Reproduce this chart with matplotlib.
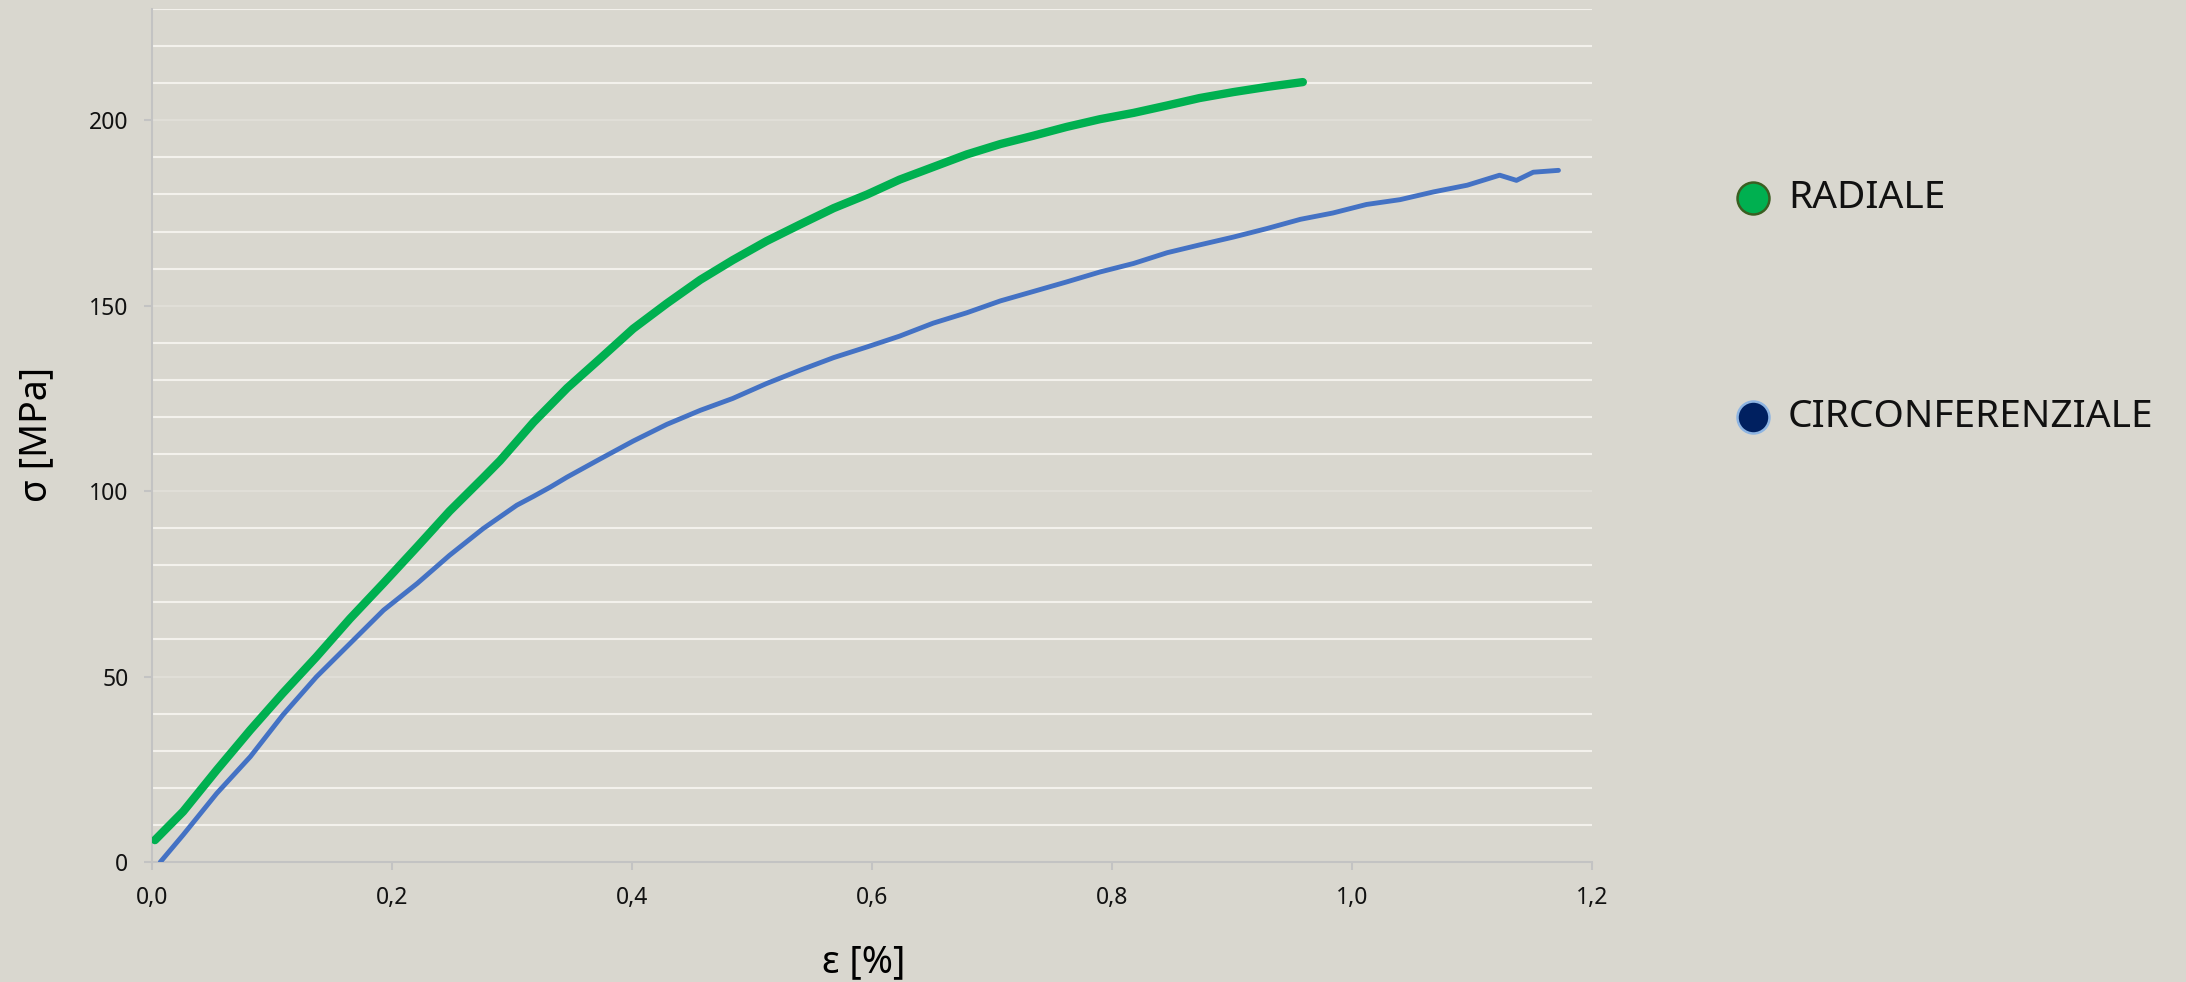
import matplotlib.pyplot as plt
from matplotlib.lines import Line2D
from matplotlib.ticker import MultipleLocator, FuncFormatter

# strain [%] / stress [MPa]
radiale_eps = [0.0025, 0.026, 0.054, 0.082, 0.109, 0.137, 0.165, 0.193, 0.221, 0.248,
               0.276, 0.29, 0.318, 0.346, 0.373, 0.401, 0.429, 0.457, 0.484, 0.512,
               0.54, 0.568, 0.596, 0.623, 0.651, 0.679, 0.707, 0.734, 0.762, 0.79,
               0.818, 0.846, 0.873, 0.901, 0.929, 0.959]
radiale_sig = [5.9, 13.6, 24.8, 35.6, 45.5, 55.3, 65.6, 75.2, 85.0, 94.6,
               103.6, 108.2, 118.6, 127.8, 135.6, 143.8, 150.6, 157.0, 162.3, 167.4,
               171.9, 176.3, 180.0, 184.0, 187.4, 190.8, 193.6, 195.8, 198.2, 200.3,
               202.0, 204.0, 206.0, 207.6, 209.0, 210.3]

circ_eps = [0.007, 0.026, 0.054, 0.082, 0.109, 0.137, 0.165, 0.193, 0.221, 0.248,
            0.276, 0.304, 0.318, 0.332, 0.346, 0.373, 0.401, 0.429, 0.457, 0.484, 0.512,
            0.54, 0.568, 0.596, 0.623, 0.651, 0.679, 0.707, 0.734, 0.762, 0.79,
            0.818, 0.846, 0.873, 0.901, 0.929, 0.957, 0.984, 1.012, 1.04, 1.068,
            1.096, 1.123, 1.137, 1.151, 1.172]
circ_sig = [0.0, 7.3, 18.5, 28.4, 39.6, 49.9, 58.9, 67.9, 75.1, 82.7,
            89.9, 96.2, 98.6, 101.1, 103.8, 108.6, 113.5, 118.0, 121.8, 125.0, 129.0,
            132.6, 136.0, 138.9, 141.8, 145.3, 148.1, 151.3, 153.8, 156.4, 159.1,
            161.4, 164.3, 166.4, 168.5, 170.8, 173.3, 175.0, 177.3, 178.6, 180.7,
            182.5, 185.2, 183.8, 186.0, 186.5]

labels = ['RADIALE', 'CIRCONFERENZIALE']

bg = '#d9d7cf'
plt.rcParams['font.family'] = ['Noto Sans', 'DejaVu Sans']

fig = plt.figure(figsize=(21.86, 9.82), dpi=100, facecolor=bg)
ax = fig.add_axes([0.0695, 0.1222, 0.6588, 0.8686], facecolor=bg)

ax.plot(circ_eps, circ_sig, color='#4472c4', lw=3.5, solid_capstyle='round',
        solid_joinstyle='round', zorder=3)
ax.plot(radiale_eps, radiale_sig, color='#00b050', lw=6, solid_capstyle='round',
        solid_joinstyle='round', zorder=4)

ax.set_xlim(0, 1.2)
ax.set_ylim(0, 230)
ax.xaxis.set_major_locator(MultipleLocator(0.2))
ax.yaxis.set_major_locator(MultipleLocator(50))
ax.yaxis.set_minor_locator(MultipleLocator(10))
ax.xaxis.set_major_formatter(FuncFormatter(lambda v, p: f'{v:.1f}'.replace('.', ',')))

ax.grid(which='minor', axis='y', color='#f3f1ec', lw=1.5, zorder=1)
ax.grid(which='major', axis='y', color='#e0ded7', lw=1.5, zorder=1)
ax.set_axisbelow(True)

for s in ['top', 'right']:
    ax.spines[s].set_visible(False)
for s in ['left', 'bottom']:
    ax.spines[s].set_color('#c3c3c3')
    ax.spines[s].set_linewidth(1.5)

ax.tick_params(which='major', length=6, width=1.5, color='#c3c3c3',
               labelsize=16.5, labelcolor='#111111', pad=11)
ax.tick_params(which='minor', length=0)

fig.text(0.0165, 0.558, 'σ [MPa]', rotation=90, ha='center', va='center', fontsize=27)
fig.text(0.395, 0.02, 'ε [%]', ha='center', va='center', fontsize=27)

# legend drawn by hand at the right side
leg_y = [1 - 198 / 982, 1 - 417 / 982]
leg_fill = ['#00b050', '#002060']
leg_edge = ['#3b5e22', '#8db4e2']
for lab, yy, fc, ec in zip(labels, leg_y, leg_fill, leg_edge):
    fig.add_artist(Line2D([1753 / 2186], [yy], marker='o', markersize=23, markerfacecolor=fc,
                          markeredgecolor=ec, markeredgewidth=1.8, transform=fig.transFigure))
    fig.text(1788 / 2186, yy, lab, ha='left', va='center', fontsize=28, color='#111111')

plt.savefig('out.png', dpi=100, facecolor=bg)
